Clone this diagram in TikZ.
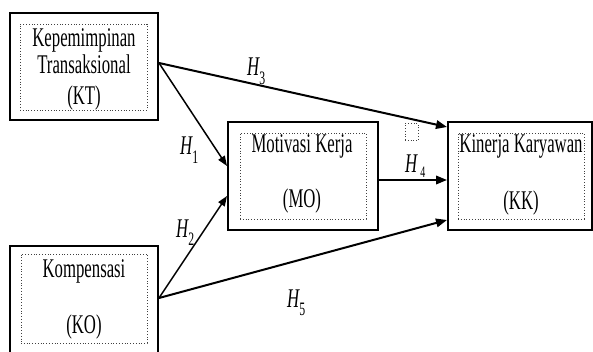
\documentclass[tikz,border=0pt]{standalone}
\usepackage{fontspec}
\usetikzlibrary{arrows.meta}
\newfontfamily\nf[FakeStretch=0.62]{Liberation Serif}
\begin{document}
\begin{tikzpicture}[x=1pt,y=-1pt,
  outerbox/.style={draw=black,line width=1.1pt,minimum width=#1,inner sep=0pt},
  innerbox/.style={draw=black!75,dotted,line width=0.8pt,inner sep=0pt},
  lbl/.style={font=\nf\fontsize{27}{30}\selectfont,anchor=base,inner sep=0pt},
  hl/.style={font=\nf\fontsize{27}{30}\selectfont\itshape,anchor=base west,inner sep=0pt},
  arr/.style={draw=black,line width=2pt,-{Triangle[length=11pt,width=8.5pt]}},
  arrthin/.style={draw=black,line width=1.5pt,-{Triangle[length=10pt,width=7.5pt]}}]
\useasboundingbox (0,0) rectangle (593,352);
% outer boxes
\node[outerbox=148pt,minimum height=107pt] (kt) at (84,66.5) {};
\node[outerbox=148pt,minimum height=108pt] (ko) at (84,300) {};
\node[outerbox=150pt,minimum height=108pt] (mo) at (303,176) {};
\node[outerbox=144pt,minimum height=108pt] (kk) at (520,176) {};
% inner dotted boxes
\node[innerbox,minimum width=127pt,minimum height=86pt] (kti) at (83.5,67) {};
\node[innerbox,minimum width=126pt,minimum height=89pt] (koi) at (84,298.5) {};
\node[innerbox,minimum width=126pt,minimum height=86pt] (moi) at (303,176) {};
\node[innerbox,minimum width=126pt,minimum height=86pt] (kki) at (521,176) {};
\node[innerbox,minimum width=13pt,minimum height=17pt] (small) at (411.5,132) {};
% texts
\node[lbl] (t1) at (84,47) {Kepemimpinan};
\node[lbl] (t2) at (84,74) {Transaksional};
\node[lbl] (t3) at (84,105) {(KT)};
\node[lbl] (t4) at (84,277) {Kompensasi};
\node[lbl] (t5) at (84,333) {(KO)};
\node[lbl] (t6) at (302,153) {Motivasi Kerja};
\node[lbl] (t7) at (302,208) {(MO)};
\node[lbl] (t8) at (521,153) {Kinerja Karyawan};
\node[lbl] (t9) at (521,210) {(KK)};
% anchor coordinates
\coordinate (ktout) at (159,63);
\coordinate (koout) at (159,298);
\coordinate (moin1) at (227,166);
\coordinate (moin2) at (227,196);
\coordinate (moout) at (378,180);
\coordinate (kkin3) at (447,127);
\coordinate (kkin4) at (447,180);
\coordinate (kkin5) at (447,220);
% arrows
\draw[arr] (ktout) -- (kkin3);
\draw[arrthin] (ktout) -- (moin1);
\draw[arrthin] (koout) -- (moin2);
\draw[arr] (koout) -- (kkin5);
\draw[arr] (moout) -- (kkin4);
% H labels
\node[hl] (h3) at (247,76) {H\raisebox{-0.3em}{\upshape\fontsize{19}{19}\selectfont 3}};
\node[hl] (h1) at (180,155) {H\raisebox{-0.3em}{\upshape\fontsize{19}{19}\selectfont 1}};
\node[hl] (h2) at (176,237) {H\raisebox{-0.3em}{\upshape\fontsize{19}{19}\selectfont 2}};
\node[hl] (h4) at (405,173) {H\hspace{3pt}\raisebox{-0.15em}{\upshape\fontsize{16}{16}\selectfont 4}};
\node[hl] (h5) at (287,307) {H\raisebox{-0.3em}{\upshape\fontsize{19}{19}\selectfont 5}};
\end{tikzpicture}
\end{document}
